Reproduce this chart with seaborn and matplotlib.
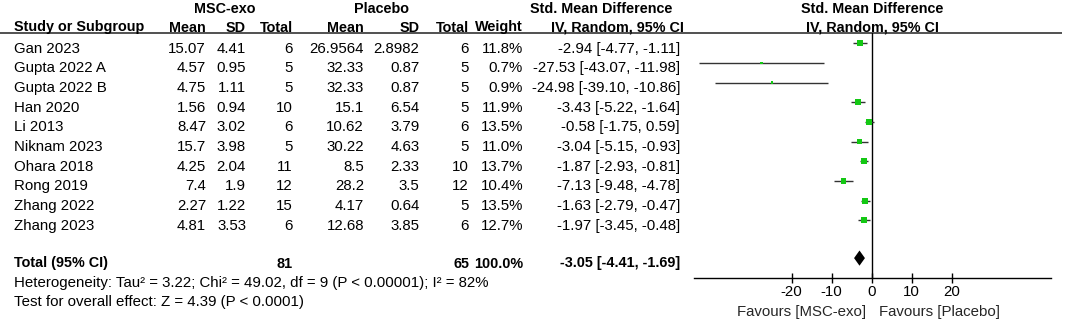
import matplotlib
matplotlib.use("Agg")
import matplotlib.pyplot as plt
import seaborn as sns
import numpy as np
import pandas as pd

# ---------------- data ----------------
studies = ["Gan 2023", "Gupta 2022 A", "Gupta 2022 B", "Han 2020", "Li 2013",
           "Niknam 2023", "Ohara 2018", "Rong 2019", "Zhang 2022", "Zhang 2023"]
msc_mean = [15.07, 4.57, 4.75, 1.56, 8.47, 15.7, 4.25, 7.4, 2.27, 4.81]
msc_sd = [4.41, 0.95, 1.11, 0.94, 3.02, 3.98, 2.04, 1.9, 1.22, 3.53]
msc_n = [6, 5, 5, 10, 6, 5, 11, 12, 15, 6]
pl_mean = [26.9564, 32.33, 32.33, 15.1, 10.62, 30.22, 8.5, 28.2, 4.17, 12.68]
pl_sd = [2.8982, 0.87, 0.87, 6.54, 3.79, 4.63, 2.33, 3.5, 0.64, 3.85]
pl_n = [6, 5, 5, 5, 6, 5, 10, 12, 5, 6]
weight = [11.8, 0.7, 0.9, 11.9, 13.5, 11.0, 13.7, 10.4, 13.5, 12.7]
smd = [-2.94, -27.53, -24.98, -3.43, -0.58, -3.04, -1.87, -7.13, -1.63, -1.97]
ci_lo = [-4.77, -43.07, -39.10, -5.22, -1.75, -5.15, -2.93, -9.48, -2.79, -3.45]
ci_hi = [-1.11, -11.98, -10.86, -1.64, 0.59, -0.93, -0.81, -4.78, -0.47, -0.48]

total_msc_n = 81
total_pl_n = 65
total_weight = 100.0
total_smd = -3.05
total_lo = -4.41
total_hi = -1.69

heterogeneity = "Heterogeneity: Tau\u00b2 = 3.22; Chi\u00b2 = 49.02, df = 9 (P < 0.00001); I\u00b2 = 82%"
overall = "Test for overall effect: Z = 4.39 (P < 0.0001)"
xticks = [-20, -10, 0, 10, 20]
favours_left = "Favours [MSC-exo]"
favours_right = "Favours [Placebo]"

# ---------------- style ----------------
sns.set_theme(style="white")
plt.rcParams["font.family"] = ["Liberation Sans", "DejaVu Sans"]
plt.rcParams["axes.unicode_minus"] = False
FS = 10.8
FSB = 10.4

W, H = 1065, 321
fig = plt.figure(figsize=(W / 100, H / 100), dpi=100)

# text layer in pixel coordinates
axt = fig.add_axes([0, 0, 1, 1])
axt.set_xlim(0, W)
axt.set_ylim(H, 0)
axt.axis("off")

# layout (pixels)
row0 = 52.7
step = 19.67
rows_base = [row0 + step * i for i in range(len(studies))]
total_base = 267.5
mark_off = 9.4

x_name = 14
col_x = [206, 246, 292.5, 364, 419.5, 469, 523, 680]

def t(x, y, s, ha="right", bold=False, **kw):
    axt.text(x, y, s, ha=ha, va="baseline", fontsize=FSB if bold else FS,
             fontweight="bold" if bold else "normal", color="black", **kw)

# headers
t(225, 13.3, "MSC-exo", ha="center", bold=True)
t(381.7, 13.3, "Placebo", ha="center", bold=True)
t(530.5, 13.3, "Std. Mean Difference", ha="left", bold=True)
t(872, 13.3, "Std. Mean Difference", ha="center", bold=True)
t(x_name, 31.5, "Study or Subgroup", ha="left", bold=True)
for x, lab in zip(col_x[:7], ["Mean", "SD", "Total", "Mean", "SD", "Total", "Weight"]):
    t(x, 31.5, lab, bold=True)
t(551, 31.5, "IV, Random, 95% CI", ha="left", bold=True)
t(872, 31.5, "IV, Random, 95% CI", ha="center", bold=True)
axt.plot([0, 1062], [32.7, 32.7], color="#222222", lw=1.1, solid_capstyle="butt")

# study rows
for i, yb in enumerate(rows_base):
    t(x_name, yb, studies[i], ha="left")
    vals = ["{:g}".format(msc_mean[i]), "{:g}".format(msc_sd[i]), str(msc_n[i]),
            "{:g}".format(pl_mean[i]), "{:g}".format(pl_sd[i]), str(pl_n[i]),
            "{:.1f}%".format(weight[i]),
            "{:.2f} [{:.2f}, {:.2f}]".format(smd[i], ci_lo[i], ci_hi[i])]
    for x, v in zip(col_x, vals):
        t(x, yb, v)

# total row
t(x_name, total_base, "Total (95% CI)", ha="left", bold=True)
t(col_x[2], total_base, str(total_msc_n), bold=True)
t(col_x[5], total_base, str(total_pl_n), bold=True)
t(col_x[6], total_base, "{:.1f}%".format(total_weight), bold=True)
t(col_x[7], total_base, "{:.2f} [{:.2f}, {:.2f}]".format(total_smd, total_lo, total_hi), bold=True)
t(x_name, 286.5, heterogeneity, ha="left")
t(x_name, 306, overall, ha="left")

# ---------------- forest axes ----------------
zero_px = 871.7
ppu = 4.0
ax_left_px, ax_right_px = 693.8, 1050.5
ax_top_px, ax_bot_px = 32.7, 278.3
ax = fig.add_axes([ax_left_px / W, (H - ax_bot_px) / H,
                   (ax_right_px - ax_left_px) / W, (ax_bot_px - ax_top_px) / H])
ax.set_facecolor("none")
ax.set_xlim((ax_left_px - zero_px) / ppu, (ax_right_px - zero_px) / ppu)
ax.set_ylim(ax_bot_px, ax_top_px)

df = pd.DataFrame({"study": studies, "smd": smd, "lo": ci_lo, "hi": ci_hi,
                   "weight": weight})
df["y"] = [yb - mark_off for yb in rows_base]
side_px = np.maximum(2.3, 1.65 * np.sqrt(df["weight"].to_numpy()))
df["s"] = (side_px * 0.72) ** 2

ax.hlines(df["y"], df["lo"], df["hi"], color="#333333", lw=1.0, zorder=2)
sns.scatterplot(data=df, x="smd", y="y", marker="s", s=df["s"].to_numpy(),
                color="#14c814", linewidth=0, ax=ax, zorder=3, legend=False)

# diamond for total
yd = total_base - mark_off
hd = 7.6
ax.fill([total_lo, total_smd, total_hi, total_smd],
        [yd, yd - hd, yd, yd + hd], color="black", lw=0, zorder=3)

ax.axvline(0, color="black", lw=1.0, zorder=1)
for s in ["left", "right", "top"]:
    ax.spines[s].set_visible(False)
ax.spines["bottom"].set_color("black")
ax.spines["bottom"].set_linewidth(1.0)
ax.set_yticks([])
ax.set_xticks(xticks)
ax.set_xticklabels([str(v) for v in xticks])
ax.tick_params(axis="x", direction="inout", length=6.8, width=1.0, color="black",
               pad=1.7, labelsize=FS, labelcolor="black", bottom=True)
ax.set_xlabel("")
ax.set_ylabel("")

axt.text(866, 316, favours_left, ha="right", va="baseline", fontsize=FS)
axt.text(879, 316, favours_right, ha="left", va="baseline", fontsize=FS)

fig.savefig("out.png", dpi=100)
